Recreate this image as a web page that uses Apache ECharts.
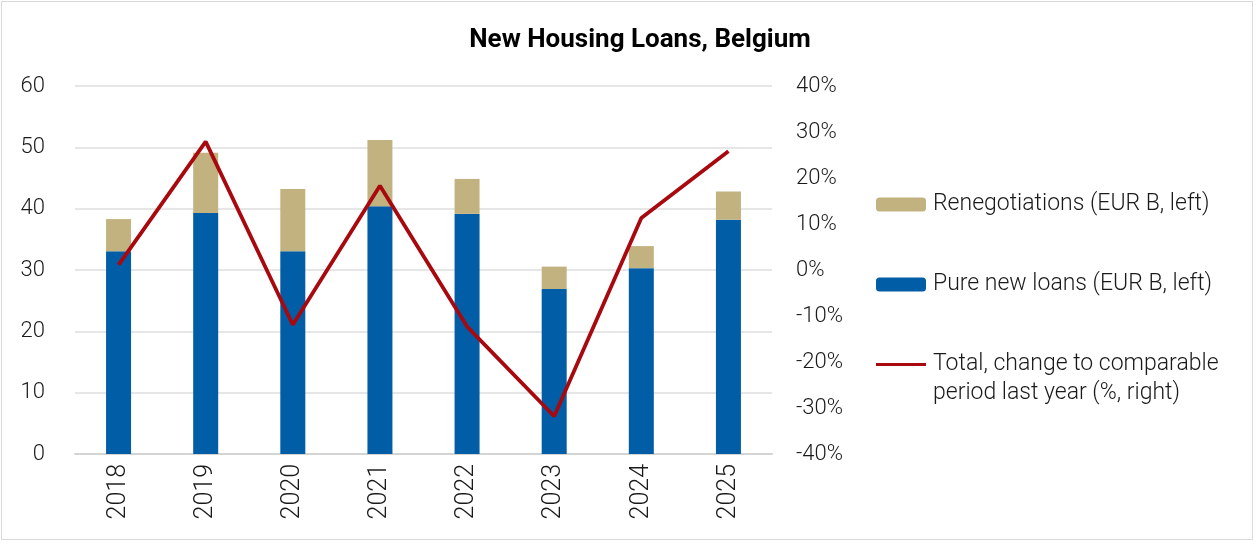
<!DOCTYPE html>
<html>
<head>
<meta charset="utf-8">
<script src="https://cdn.jsdelivr.net/npm/echarts@6/dist/echarts.min.js"></script>
<style>
    html, body {margin: 0; padding: 0; background: #fff;}
    #frame {position: absolute; left: 1px; top: 1px; width: 1250px; height: 537px; border: 1px solid #d9d9d9;}
    #main {position: absolute; left: 0; top: 0; width: 1257px; height: 545px;}
</style>
</head>
<body>
<div id="frame"></div>
<div id="main"></div>
<script>
// 年份
const years = ['2018', '2019', '2020', '2021', '2022', '2023', '2024', '2025'];
// Pure new loans (EUR B)
const pureNewLoans = [33.05, 39.3, 33.05, 40.4, 39.15, 26.9, 30.3, 38.2];
// Renegotiations (EUR B)
const renegotiations = [5.25, 9.8, 10.15, 10.8, 5.7, 3.65, 3.6, 4.6];
// Total, change to comparable period last year (%)
const totalChange = [1.1, 27.9, -11.9, 18.3, -12.3, -31.8, 11.3, 25.8];

const font = 'Roboto';
const textColor = '#1a1a1a';

let myChart = echarts.init(document.getElementById('main'));
myChart.setOption({
    animation: false,
    title: {
        text: 'New Housing Loans, Belgium',
        left: 635,
        top: 22,
        textAlign: 'center',
        textStyle: {fontFamily: font, fontWeight: 'bold', fontSize: 26, color: '#000'}
    },
    legend: {
        orient: 'vertical',
        left: 876,
        top: 191,
        padding: 0,
        itemWidth: 50,
        itemHeight: 14,
        itemGap: 53,
        data: [
            {name: 'Renegotiations (EUR B, left)'},
            {name: 'Pure new loans (EUR B, left)'},
            {name: 'Total, change to comparable', icon: 'path://M0,0 L50,0 L50,3 L0,3 Z', itemStyle: {color: '#a8090f'}}
        ],
        textStyle: {fontFamily: font, fontWeight: 300, fontSize: 23, color: textColor, lineHeight: 27, padding: [0, 0, 0, 2]}
    },
    graphic: [
        {
            type: 'text',
            left: 933,
            top: 382,
            style: {text: 'period last year (%, right)', fontFamily: font, fontWeight: 300, fontSize: 23, fill: textColor}
        }
    ],
    grid: {left: 75, right: 485, top: 86, bottom: 91},
    xAxis: {
        type: 'category',
        data: years,
        axisLine: {lineStyle: {color: '#d4d4d4', width: 2}},
        axisTick: {show: false},
        axisLabel: {rotate: 90, margin: 10, fontFamily: font, fontWeight: 300, fontSize: 25, color: textColor}
    },
    yAxis: [
        {
            type: 'value',
            min: 0,
            max: 60,
            interval: 10,
            axisLine: {show: false},
            axisTick: {show: false},
            splitLine: {lineStyle: {color: '#e6e6e6', width: 2}},
            axisLabel: {margin: 30, fontFamily: font, fontWeight: 300, fontSize: 22, color: textColor}
        },
        {
            type: 'value',
            min: -40,
            max: 40,
            interval: 10,
            axisLine: {show: false},
            axisTick: {show: false},
            splitLine: {show: false},
            axisLabel: {margin: 24, formatter: '{value}%', fontFamily: font, fontWeight: 300, fontSize: 22, color: textColor}
        }
    ],
    series: [
        {
            name: 'Pure new loans (EUR B, left)',
            type: 'bar',
            stack: 'loans',
            barWidth: 25,
            itemStyle: {color: '#005da6'},
            data: pureNewLoans
        },
        {
            name: 'Renegotiations (EUR B, left)',
            type: 'bar',
            stack: 'loans',
            barWidth: 25,
            itemStyle: {color: '#c2b280'},
            data: renegotiations
        },
        {
            name: 'Total, change to comparable',
            type: 'line',
            yAxisIndex: 1,
            symbol: 'none',
            lineStyle: {color: '#a8090f', width: 3.8},
            itemStyle: {color: '#a8090f'},
            data: totalChange
        }
    ]
});
</script>
</body>
</html>
